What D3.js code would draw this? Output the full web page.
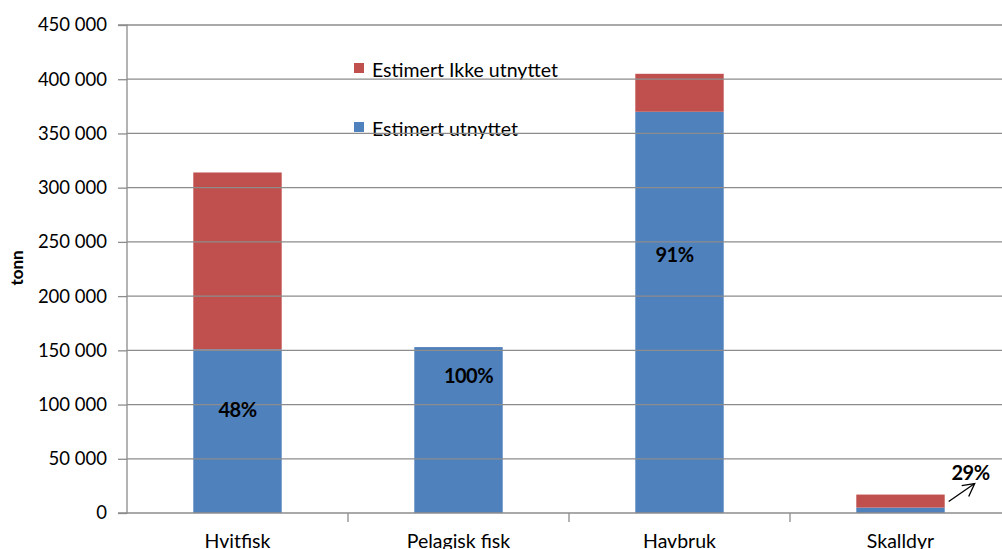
<!DOCTYPE html>
<html><head><meta charset="utf-8">
<script src="https://cdn.jsdelivr.net/npm/d3@7"></script>
<style>body{margin:0;background:#fff;overflow:hidden}svg{display:block}text{font-family:Lato,"Open Sans",sans-serif}</style>
</head><body><svg id="c" width="1002" height="549"></svg>
<script>
const categories = ["Hvitfisk","Pelagisk fisk","Havbruk","Skalldyr"];
const utnyttet = [151000,153000,370000,5000];
const ikkeUtnyttet = [163000,0,35000,12000];
const pctLabels = ["48%","100%","91%","29%"];
const yTicks = [0,50000,100000,150000,200000,250000,300000,350000,400000,450000];
const seriesNames = ["Estimert Ikke utnyttet","Estimert utnyttet"];
const colors = {ikke:"#C0504D", utn:"#4F81BD"};

(function(){
const svg = d3.select("#c");
const mLeft = 127, mTop = 25, mBottom = 513, mRight = 1011;
const x = d3.scaleBand().domain(categories).range([mLeft,mRight]).paddingInner(0.6).paddingOuter(0.3);
const y = d3.scaleLinear().domain([0,450000]).range([mBottom,mTop]);
const fmt = v => d3.format(",")(v).replace(/,/g," ");

// bars
const g = svg.append("g");
g.selectAll(".b").data(categories).join("rect")
  .attr("x",d=>x(d)).attr("width",x.bandwidth())
  .attr("y",(d,i)=>y(utnyttet[i])).attr("height",(d,i)=>y(0)-y(utnyttet[i]))
  .attr("fill",colors.utn);
g.selectAll(".r").data(categories).join("rect")
  .attr("x",d=>x(d)).attr("width",x.bandwidth())
  .attr("y",(d,i)=>y(utnyttet[i]+ikkeUtnyttet[i])).attr("height",(d,i)=>y(utnyttet[i])-y(utnyttet[i]+ikkeUtnyttet[i]))
  .attr("fill",colors.ikke);

// legend
const lg = svg.append("g");
seriesNames.forEach((n,i)=>{
  const yy = 63 + i*59;
  lg.append("rect").attr("x",354).attr("y",yy).attr("width",10).attr("height",10).attr("fill",i===0?colors.ikke:colors.utn);
  lg.append("text").attr("x",372).attr("y",yy+14).attr("font-size",19.5).attr("fill","#000").text(n);
});

// gridlines
svg.append("g").selectAll("line").data(yTicks.slice(1)).join("line")
  .attr("x1",mLeft).attr("x2",1002).attr("y1",d=>y(d)).attr("y2",d=>y(d))
  .attr("stroke","#8c8c8c").attr("stroke-width",1.3);

// y axis
const ya = svg.append("g").attr("transform",`translate(${mLeft},0)`)
  .call(d3.axisLeft(y).tickValues(yTicks).tickFormat(fmt).tickSize(9).tickPadding(11));
ya.select(".domain").attr("stroke","#8c8c8c").attr("stroke-width",1.3).attr("d",`M-9,${mTop}H0V${mBottom}H-9`);
ya.selectAll(".tick line").attr("stroke","#8c8c8c").attr("stroke-width",1.3);
ya.selectAll(".tick text").attr("font-size",18.5).attr("fill","#000").attr("font-family","Lato,sans-serif");

// x axis
const xa = svg.append("g").attr("transform",`translate(0,${mBottom})`)
  .call(d3.axisBottom(x).tickSize(0).tickPadding(21));
xa.select(".domain").attr("stroke","#8c8c8c").attr("stroke-width",1.3).attr("d",`M${mLeft},0H1002`);
xa.selectAll(".tick text").attr("font-size",19.5).attr("fill","#000").attr("font-family","Lato,sans-serif");
svg.append("g").selectAll("line").data(categories.slice(1)).join("line")
  .attr("x1",d=>x(d)-x.step()*x.paddingInner()/2).attr("x2",d=>x(d)-x.step()*x.paddingInner()/2)
  .attr("y1",mBottom).attr("y2",mBottom+9).attr("stroke","#8c8c8c").attr("stroke-width",1.3);

// axis title
svg.append("text").attr("transform","translate(23,268) rotate(-90)").attr("text-anchor","middle")
  .attr("font-size",17).attr("font-weight","bold").text("tonn");

// percent labels
const lx = [0,10,-5,70], lyv = [95000,126000,238000,0];
const lab = svg.append("g");
categories.forEach((c,i)=>{
  let px = x(c)+x.bandwidth()/2+lx[i];
  let py = i===3 ? y(utnyttet[i]+ikkeUtnyttet[i]) - 22 : y(lyv[i]);
  lab.append("text").attr("x",px).attr("y",py+7).attr("text-anchor","middle")
    .attr("font-size",20).attr("font-weight","bold").attr("letter-spacing",-0.5).text(pctLabels[i]);
});
const sx = x("Skalldyr")+x.bandwidth()+4, sy = y(utnyttet[3]+ikkeUtnyttet[3])+7;
const ex = sx+26, ey = sy-18;
lab.append("line").attr("x1",sx).attr("y1",sy).attr("x2",ex).attr("y2",ey).attr("stroke","#000").attr("stroke-width",1.3);
lab.append("path").attr("d",`M${ex-13},${ey+2}L${ex},${ey}L${ex-6},${ey+13}`).attr("fill","none").attr("stroke","#000").attr("stroke-width",1.3);
})();
</script></body></html>
